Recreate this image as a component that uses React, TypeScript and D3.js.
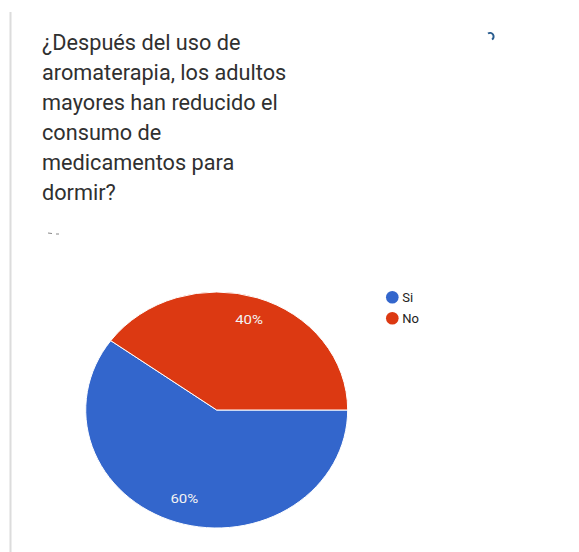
import React from "react";
import * as d3 from "d3";

const titleLines = [
  "¿Después del uso de",
  "aromaterapia, los adultos",
  "mayores han reducido el",
  "consumo de",
  "medicamentos para",
  "dormir?",
];
const categories = ["Si", "No"];
const values = [60, 40];
const colors = ["#3366cc", "#dc3912"];

export default function App() {
  const W = 579;
  const H = 552;
  const cx = 216.7;
  const cy = 410;
  const R = 118;
  const sx = 1.11;

  const pie = d3
    .pie<number>()
    .sort(null)
    .startAngle(Math.PI / 2)
    .endAngle(Math.PI / 2 + 2 * Math.PI)
    .value((d) => d);
  const arcs = pie(values);
  const arc = d3.arc<d3.PieArcDatum<number>>().innerRadius(0).outerRadius(R);
  const labelArc = d3
    .arc<d3.PieArcDatum<number>>()
    .innerRadius(R * 0.8)
    .outerRadius(R * 0.8);
  const total = d3.sum(values);

  return (
    <svg
      width={W}
      height={H}
      style={{ position: "absolute", left: 0, top: 0, background: "#fff" }}
    >
      <rect x={0} y={0} width={W} height={H} fill="#fff" />
      <line x1={10.5} y1={12} x2={10.5} y2={H} stroke="#dcdcdc" strokeWidth={2} />
      <g fontFamily="Roboto, 'Noto Sans', sans-serif" fontSize={21.7} fill="#303030">
        {titleLines.map((t, i) => (
          <text key={i} x={42} y={50 + i * 30}>
            {t}
          </text>
        ))}
      </g>
      <path
        d="M 488 33.5 A 3.5 3.5 0 1 1 492 39.5"
        fill="none"
        stroke="#2a5d8f"
        strokeWidth={2}
      />
      <line x1={48} y1={233} x2={52} y2={233.5} stroke="#888" strokeWidth={1} />
      <line x1={56} y1={234} x2={59} y2={234} stroke="#888" strokeWidth={1} />
      <g transform={`translate(${cx},${cy}) scale(${sx},1)`}>
        {arcs.map((a, i) => (
          <path
            key={i}
            d={arc(a) || ""}
            fill={colors[i]}
            stroke="#fff"
            strokeWidth={1}
            vectorEffect="non-scaling-stroke"
          />
        ))}
      </g>
      <g fontFamily="Roboto, 'Noto Sans', sans-serif" fontSize={13.5} fill="#f2f2f2">
        {arcs.map((a, i) => {
          const [lx, ly] = labelArc.centroid(a);
          return (
            <text
              key={i}
              transform={`translate(${cx + lx * sx},${cy + ly}) scale(${sx},1)`}
              textAnchor="middle"
              dominantBaseline="middle"
            >
              {`${Math.round((values[i] / total) * 100)}%`}
            </text>
          );
        })}
      </g>
      <g fontFamily="Roboto, 'Noto Sans', sans-serif" fontSize={13} fill="#222">
        {categories.map((c, i) => (
          <g key={c} transform={`translate(392.3,${297.3 + i * 21})`}>
            <circle r={6.3} fill={colors[i]} />
            <text x={10} y={0} dominantBaseline="central">
              {c}
            </text>
          </g>
        ))}
      </g>
    </svg>
  );
}
